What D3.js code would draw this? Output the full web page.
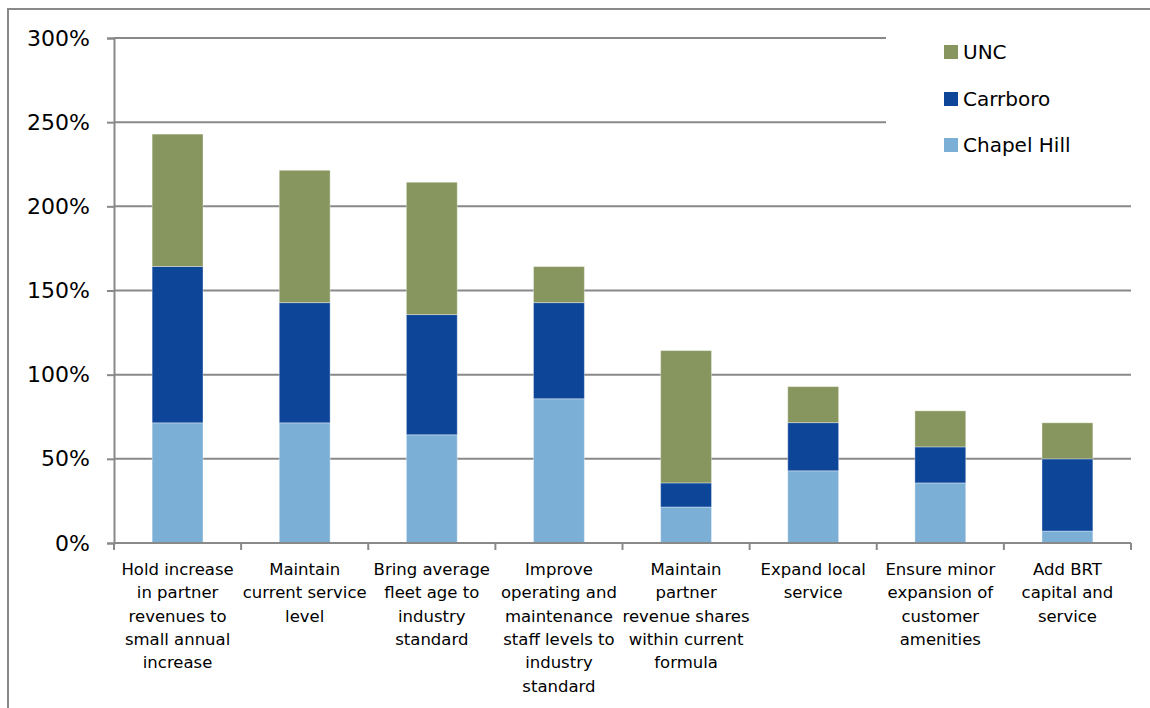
<!DOCTYPE html>
<html>
<head>
<meta charset="utf-8">
<script src="https://cdn.jsdelivr.net/npm/d3@7"></script>
<style>
  html, body { margin: 0; padding: 0; background: #fff; }
  svg { display: block; }
  text { font-family: "DejaVu Sans", sans-serif; fill: #000; }
</style>
</head>
<body>
<svg id="chart" width="1150" height="708"></svg>
<script>
const categories = [
  "Hold increase\nin partner\nrevenues to\nsmall annual\nincrease",
  "Maintain\ncurrent service\nlevel",
  "Bring average\nfleet age to\nindustry\nstandard",
  "Improve\noperating and\nmaintenance\nstaff levels to\nindustry\nstandard",
  "Maintain\npartner\nrevenue shares\nwithin current\nformula",
  "Expand local\nservice",
  "Ensure minor\nexpansion of\ncustomer\namenities",
  "Add BRT\ncapital and\nservice"
];
const seriesNames = ["Chapel Hill", "Carrboro", "UNC"];
const chapelHill = [71.4, 71.4, 64.3, 85.7, 21.4, 42.9, 35.7, 7.1];
const carrboro   = [92.9, 71.4, 71.4, 57.1, 14.3, 28.6, 21.4, 42.9];
const unc        = [78.6, 78.6, 78.6, 21.4, 78.6, 21.4, 21.4, 21.4];
const yTicks = [0, 50, 100, 150, 200, 250, 300];
const colors = { "Chapel Hill": "#7CAFD5", "Carrboro": "#0D4599", "UNC": "#87965E" };

(function () {
const svg = d3.select("#chart");
const pL = 114, pR = 1131, pT = 38, pB = 543;

const x = d3.scaleBand().domain(categories).range([pL, pR]).paddingInner(0.6).paddingOuter(0.3);
const y = d3.scaleLinear().domain([0, 300]).range([pB, pT]);

// frame
svg.append("path").attr("d", `M8,708 L8,9 L1150,9`).attr("fill", "none").attr("stroke", "#898989").attr("stroke-width", 2);

// gridlines
const grid = svg.append("g");
grid.selectAll("line").data(yTicks.filter(d => d > 0)).join("line")
  .attr("x1", pL).attr("x2", pR).attr("y1", d => y(d)).attr("y2", d => y(d))
  .attr("stroke", "#898989").attr("stroke-width", 2);

// y axis
const yAxis = d3.axisLeft(y).tickValues(yTicks).tickSize(7).tickFormat(d => d + "%");
const gy = svg.append("g").attr("transform", `translate(${pL},0)`).call(yAxis);
gy.select(".domain").attr("stroke", "#898989").attr("stroke-width", 2);
gy.selectAll(".tick line").attr("stroke", "#898989").attr("stroke-width", 2);
gy.selectAll(".tick text").attr("x", -24).style("font-size", "22px").style("font-family", "DejaVu Sans, sans-serif").attr("fill", "#000");

// stacked bars
const rows = categories.map((c, i) => ({ cat: c, "Chapel Hill": chapelHill[i], "Carrboro": carrboro[i], "UNC": unc[i] }));
const stack = d3.stack().keys(seriesNames)(rows);
svg.append("g").selectAll("g").data(stack).join("g")
  .attr("fill", d => colors[d.key])
  .selectAll("rect").data(d => d).join("rect")
  .attr("x", d => x(d.data.cat))
  .attr("width", x.bandwidth())
  .attr("y", d => y(d[1]))
  .attr("height", d => y(d[0]) - y(d[1]))
  .attr("stroke", "rgba(255,255,255,0.35)").attr("stroke-width", 1);

// x axis
const step = x.step();
const xAxisG = svg.append("g");
xAxisG.append("line").attr("x1", pL).attr("x2", pR).attr("y1", pB).attr("y2", pB)
  .attr("stroke", "#898989").attr("stroke-width", 2);
const tickXs = d3.range(categories.length + 1).map(i => pL + i * step);
xAxisG.selectAll(".xt").data(tickXs).join("line").attr("class", "xt")
  .attr("x1", d => d).attr("x2", d => d).attr("y1", pB).attr("y2", pB + 7)
  .attr("stroke", "#898989").attr("stroke-width", 2);
const labels = xAxisG.selectAll(".xl").data(categories).join("text").attr("class", "xl")
  .attr("text-anchor", "middle")
  .attr("x", d => x(d) + x.bandwidth() / 2)
  .attr("y", 575)
  .style("font-size", "16.5px");
labels.selectAll("tspan").data(d => d.split("\n")).join("tspan")
  .attr("x", function() { return d3.select(this.parentNode).attr("x"); })
  .attr("dy", (d, i) => i === 0 ? 0 : 23.3)
  .text(d => d);

// legend
const leg = svg.append("g");
leg.append("rect").attr("x", 886).attr("y", 18).attr("width", 250).attr("height", 160).attr("fill", "#fff");
const legItems = ["UNC", "Carrboro", "Chapel Hill"];
const legY = [52, 99, 145];
legItems.forEach((k, i) => {
  leg.append("rect").attr("x", 944).attr("y", legY[i] - 7).attr("width", 14).attr("height", 14).attr("fill", colors[k]);
  leg.append("text").attr("x", 963).attr("y", legY[i]).attr("dy", "0.35em").style("font-size", "20px").text(k);
});
})();
</script>
</body>
</html>
